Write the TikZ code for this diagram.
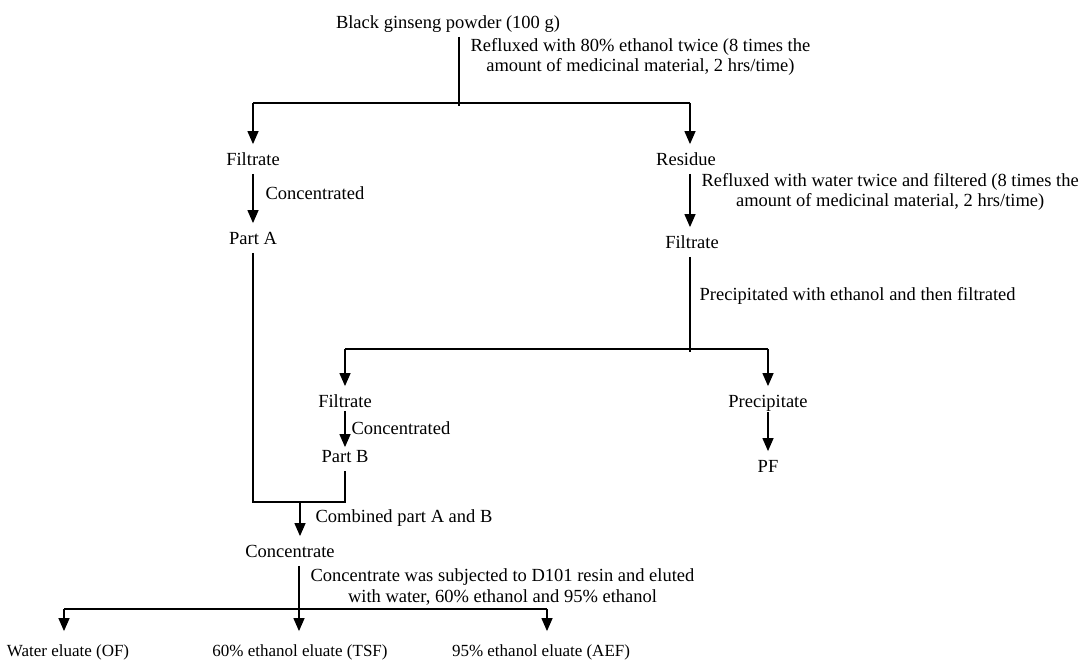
\documentclass[tikz,border=0pt]{standalone}
\usepackage{fontspec}
\setmainfont{Liberation Serif}
\usetikzlibrary{arrows.meta}

\tikzset{
    stage/.style={text height=12.5pt, text depth=2pt, inner xsep=2pt, inner ysep=6pt},
    eluate/.style={stage, font=\fontsize{17}{19}\selectfont},
    note/.style={anchor=west, inner sep=0pt, align=center},
    flow/.style={-{Triangle[length=13pt,width=11pt]}, shorten >=2pt},
}

\begin{document}
\begin{tikzpicture}[x=1pt, y=-1pt, line width=1.3pt, font=\fontsize{18.5}{20.5}\selectfont]
    \useasboundingbox (0,0) rectangle (1082,660);

    %first extraction
    \node[stage] (powder) at (448,23) {Black ginseng powder (100 g)};
    \coordinate (s1) at (459,106);
    \draw (powder.south -| s1) -- (s1);
    \node[note] at (470,57) {Refluxed with 80\% ethanol twice (8 times the\\amount of medicinal material, 2 hrs/time)};
    \coordinate (b1l) at (253,103);
    \coordinate (b1r) at (690,103);
    \draw (b1l) -- (b1r);

    \node[stage] (filtA) at (253,160) {Filtrate};
    \node[stage] (res) at (686,160) {Residue};
    \draw[flow] (b1l) -- (filtA);
    \draw[flow] (b1r) -- (b1r |- res.north);

    %left branch
    \node[stage] (partA) at (253,239) {Part A};
    \draw[flow] (filtA) -- (partA);
    \node[note] at (265,193) {Concentrated};

    %right branch
    \node[stage] (filtR) at (692,243) {Filtrate};
    \draw[flow] (res.south -| b1r) -- (filtR.north -| b1r);
    \node[note] at (701,192) {Refluxed with water twice and filtered (8 times the\\amount of medicinal material, 2 hrs/time)};
    \coordinate (s2) at (690,352);
    \draw (filtR.south -| s2) -- (s2);
    \node[note] at (699,296) {Precipitated with ethanol and then filtrated};
    \coordinate (b2l) at (345,349);
    \coordinate (b2r) at (768,349);
    \draw (b2l) -- (b2r);

    \node[stage] (filtB) at (345,402) {Filtrate};
    \node[stage] (prec) at (768,402) {Precipitate};
    \draw[flow] (b2l) -- (filtB);
    \draw[flow] (b2r) -- (prec);

    \node[stage] (partB) at (345,457) {Part B};
    \draw[flow, shorten <=-5pt, shorten >=-4pt] (filtB) -- (partB);
    \node[note] at (351,428) {Concentrated};

    \node[stage] (pf) at (768,467) {PF};
    \draw[flow, shorten <=-4pt] (prec) -- (pf);

    %combining
    \coordinate (mL) at (253,502);
    \coordinate (mC) at (300,502);
    \coordinate (mR) at (345,502);
    \draw (partA) -- (mL) -- (mR) -- (partB);
    \node[stage] (conc) at (290,552) {Concentrate};
    \draw[flow] (mC) -- (mC |- conc.north);
    \node[note] at (315,518) {Combined part A and B};

    %resin
    \coordinate (s3) at (299,611);
    \draw (conc.south -| s3) -- (s3);
    \node[note] at (310,587) {Concentrate was subjected to D101 resin and eluted\\with water, 60\% ethanol and 95\% ethanol};
    \coordinate (b3l) at (64,609);
    \coordinate (b3c) at (299,609);
    \coordinate (b3r) at (547,609);
    \draw (b3l) -- (b3r);

    \node[eluate] (water) at (68,651) {Water eluate (OF)};
    \node[eluate] (tsf) at (300,651) {60\% ethanol eluate (TSF)};
    \node[eluate] (aef) at (541,651) {95\% ethanol eluate (AEF)};
    \draw[flow, shorten >=6pt] (b3l) -- (b3l |- water.north);
    \draw[flow, shorten >=6pt] (b3c) -- (b3c |- tsf.north);
    \draw[flow, shorten >=6pt] (b3r) -- (b3r |- aef.north);

\end{tikzpicture}
\end{document}
